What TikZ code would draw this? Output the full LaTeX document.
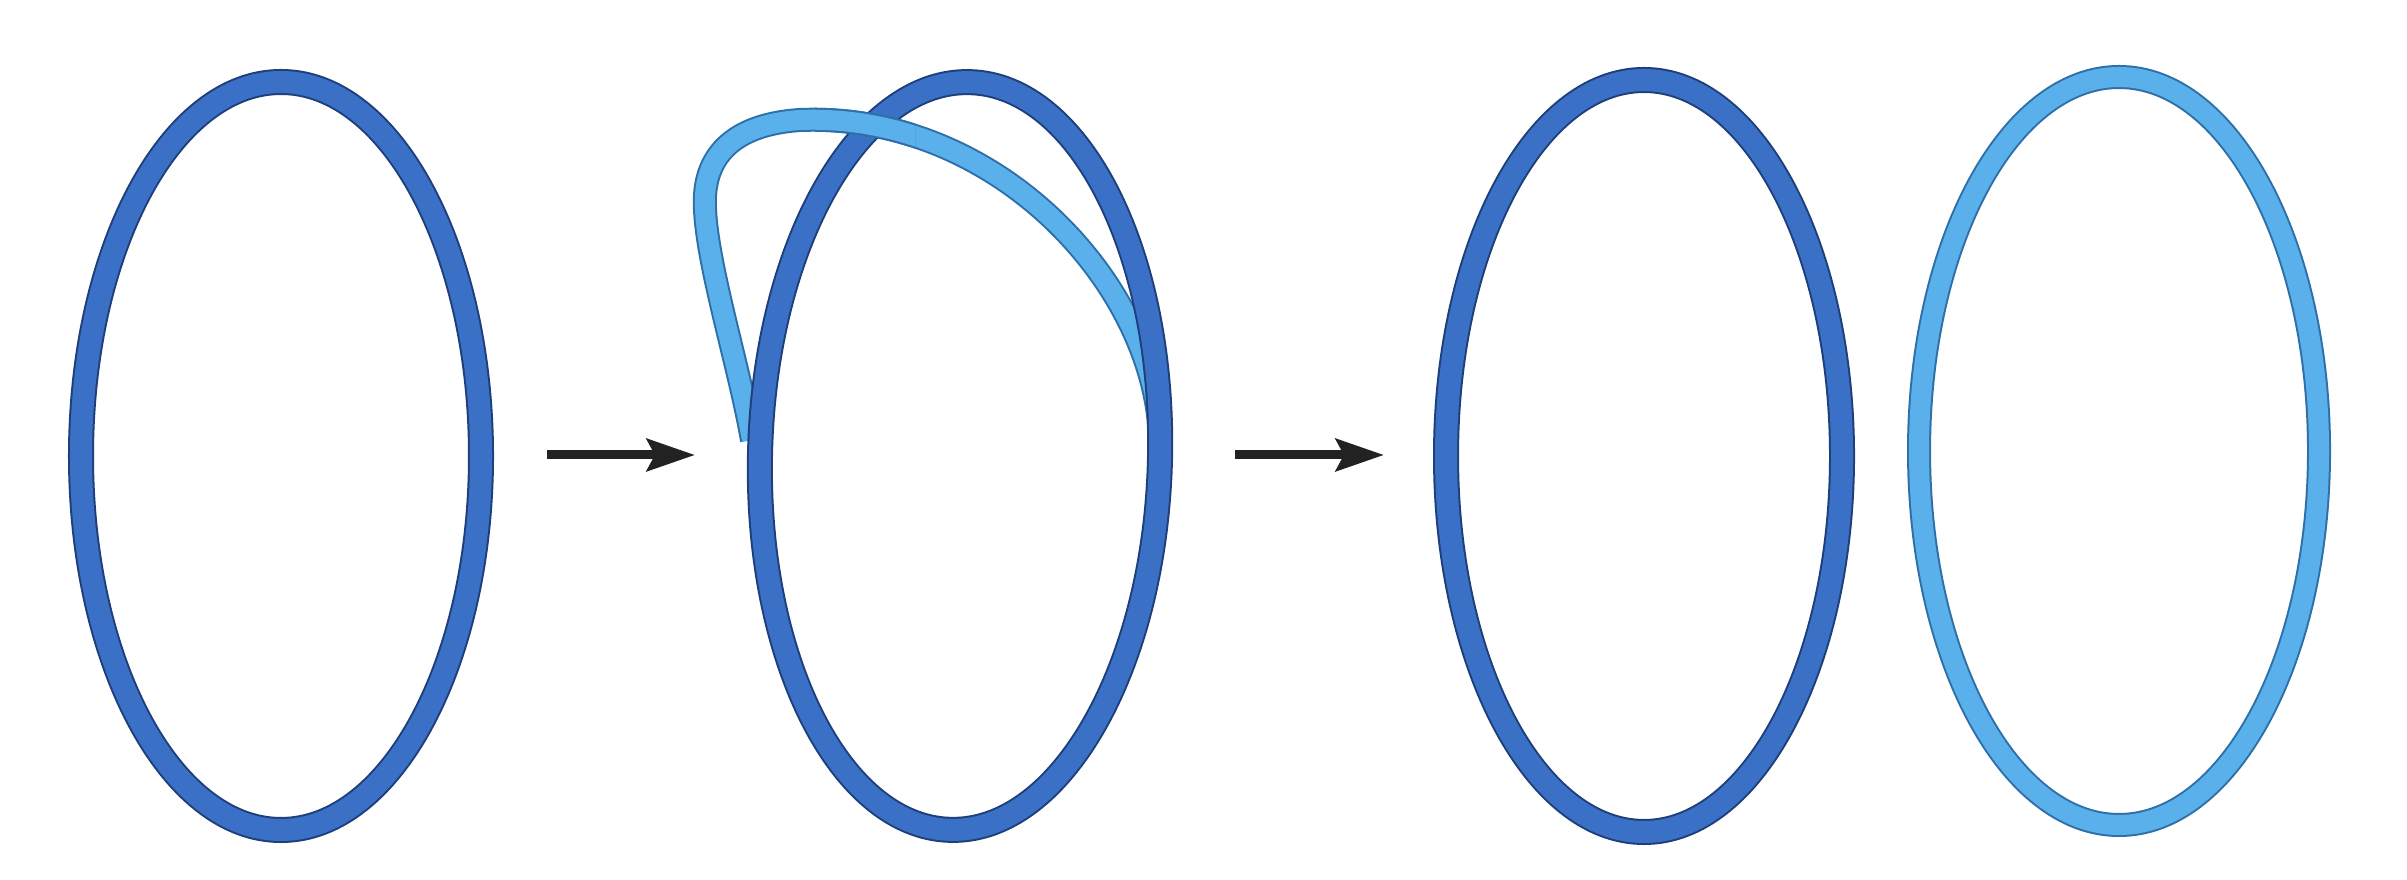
\documentclass[tikz,border=0pt]{standalone}
\usetikzlibrary{arrows.meta}
\definecolor{bandD}{HTML}{3A70C6}
\definecolor{edgeD}{HTML}{1E3F7A}
\definecolor{bandL}{HTML}{5AB0EA}
\definecolor{edgeL}{HTML}{2E6FA8}
\definecolor{arrowc}{HTML}{222222}
\tikzset{
  dband/.style={draw=bandD, line width=0.22cm, preaction={draw=edgeD, line width=0.26cm}},
  lband/.style={draw=bandL, line width=0.20cm, preaction={draw=edgeL, line width=0.24cm}},
  arr/.style={draw=arrowc, line width=0.09cm, -{Stealth[length=0.48cm,width=0.32cm,inset=0.08cm]}}
}
\begin{document}
\begin{tikzpicture}[x=0.01cm, y=-0.01cm]
\useasboundingbox (0,0) rectangle (2407,880);
% first: single dark ring
\draw[dband] (281,456) ellipse [x radius=200, y radius=374];
% arrow 1
\coordinate (a1s) at (547,455);
\coordinate (a1e) at (695,455);
\draw[arr] (a1s) -- (a1e);
% second: dark ring with light loop
\def\lightloop{(752,440) .. controls (738,360) and (702,250) .. (705,195)
  .. controls (708,150) and (740,124) .. (800,120)
  .. controls (1000,112) and (1160,290) .. (1160,445)}
\draw[lband] \lightloop;
\draw[dband, rotate around={-1.5:(960,456)}] (960,456) ellipse [x radius=200, y radius=374];
\begin{scope}
  \clip (815,60) rectangle (915,200);
  \draw[lband] \lightloop;
\end{scope}
% arrow 2
\coordinate (a2s) at (1235,455);
\coordinate (a2e) at (1384,455);
\draw[arr] (a2s) -- (a2e);
% third: separated rings
\draw[dband] (1644,456) ellipse [x radius=198, y radius=376];
\draw[lband] (2119,451) ellipse [x radius=200, y radius=374];
\end{tikzpicture}
\end{document}
